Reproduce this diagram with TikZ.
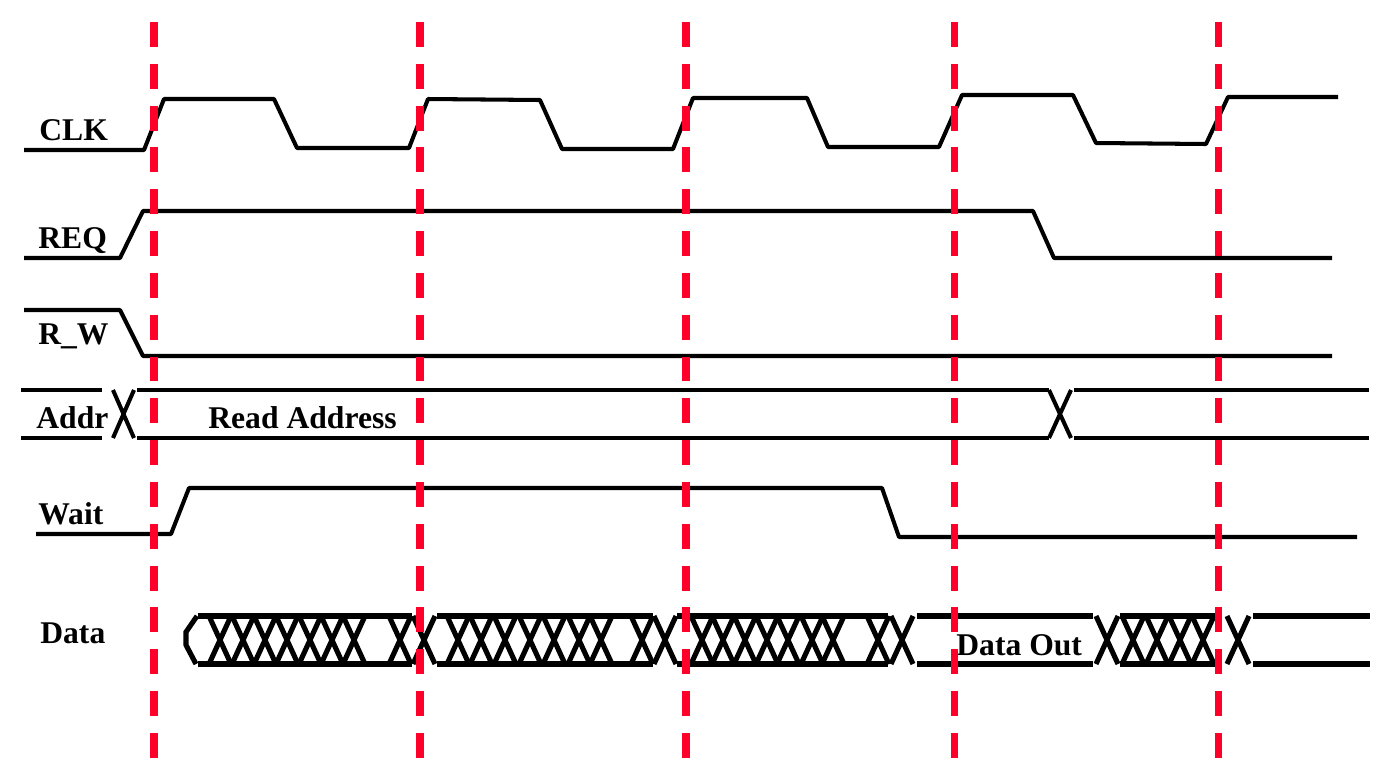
\documentclass[tikz,border=0pt]{standalone}
\usepackage{fontspec}
\setmainfont{Liberation Serif}
\usepackage{xcolor}
\definecolor{guidered}{RGB}{255,0,43}

\begin{document}
\begin{tikzpicture}[x=0.02cm,y=-0.02cm,
    wave/.style={line width=2.3pt,line join=round},
    dataline/.style={line width=2.9pt},
    guide/.style={guidered,line width=4pt,dash pattern=on 14.2pt off 9.6pt},
    lbl/.style={anchor=base west,inner sep=0pt,font=\fontsize{18}{20}\selectfont\bfseries}]
    \useasboundingbox (0,0) rectangle (1385,772);

    % signal names
    \node[lbl] (clk) at (39,140) {CLK};
    \node[lbl] (req) at (38,248) {REQ};
    \node[lbl] (rw) at (38,344) {R\_W};
    \node[lbl] (addr) at (36,428) {Addr};
    \node[lbl] (rdaddr) at (208,428) {Read Address};
    \node[lbl] (wait) at (38,524) {Wait};
    \node[lbl] (data) at (40,643) {Data};
    \node[lbl] (dout) at (956,655) {Data Out};

    % CLK
    \draw[wave] (24,150) -- (144,150) -- (164,99) -- (274,99) -- (297,148) -- (409,148)
        -- (428,99) -- (540,100) -- (562,149) -- (673,149) -- (693,98) -- (807,98)
        -- (828,147) -- (939,147) -- (962,95) -- (1073,95) -- (1096,143) -- (1206,144)
        -- (1228,97) -- (1338,97);

    % REQ
    \draw[wave] (24,258) -- (120,258) -- (143,211) -- (1033,211) -- (1054,258) -- (1332,258);

    % R_W
    \draw[wave] (24,310) -- (120,310) -- (143,356) -- (1332,356);

    % Addr
    \draw[wave] (21,390) -- (102,390) (21,438) -- (102,438);
    \draw[wave] (113,390) -- (134,438) (134,390) -- (113,438);
    \draw[wave] (137,390) -- (1049,390) (137,438) -- (1049,438);
    \draw[wave] (1049,390) -- (1071,438) (1071,390) -- (1049,438);
    \draw[wave] (1074,390) -- (1369,390) (1074,438) -- (1369,438);

    % Wait
    \draw[wave] (36,534) -- (171,534) -- (189,488) -- (882,488) -- (899,537) -- (1357,537);

    % Data
    \draw[dataline] (197,616) -- (186,632) -- (186,645) -- (196,664);
    \foreach \a/\b in {198/412,437/653,677/888,917/1093,1120/1215,1253/1370}
        \draw[dataline] (\a,616) -- (\b,616) (\a,664) -- (\b,664);
    \foreach \c in {220,243,265,287,310,332,354,400,424,
                    458,481,505,530,554,579,601,642,665,
                    702,723,745,767,788,812,833,878,902,
                    1107,1133,1157,1180,1203,1238}
        \draw[dataline] (\c-11,616) -- (\c+11,664) (\c+11,616) -- (\c-11,664);

    % clock edges
    \foreach \g in {154,420,686,954,1218}
        \draw[guide] (\g,22) -- (\g,762);

\end{tikzpicture}
\end{document}
